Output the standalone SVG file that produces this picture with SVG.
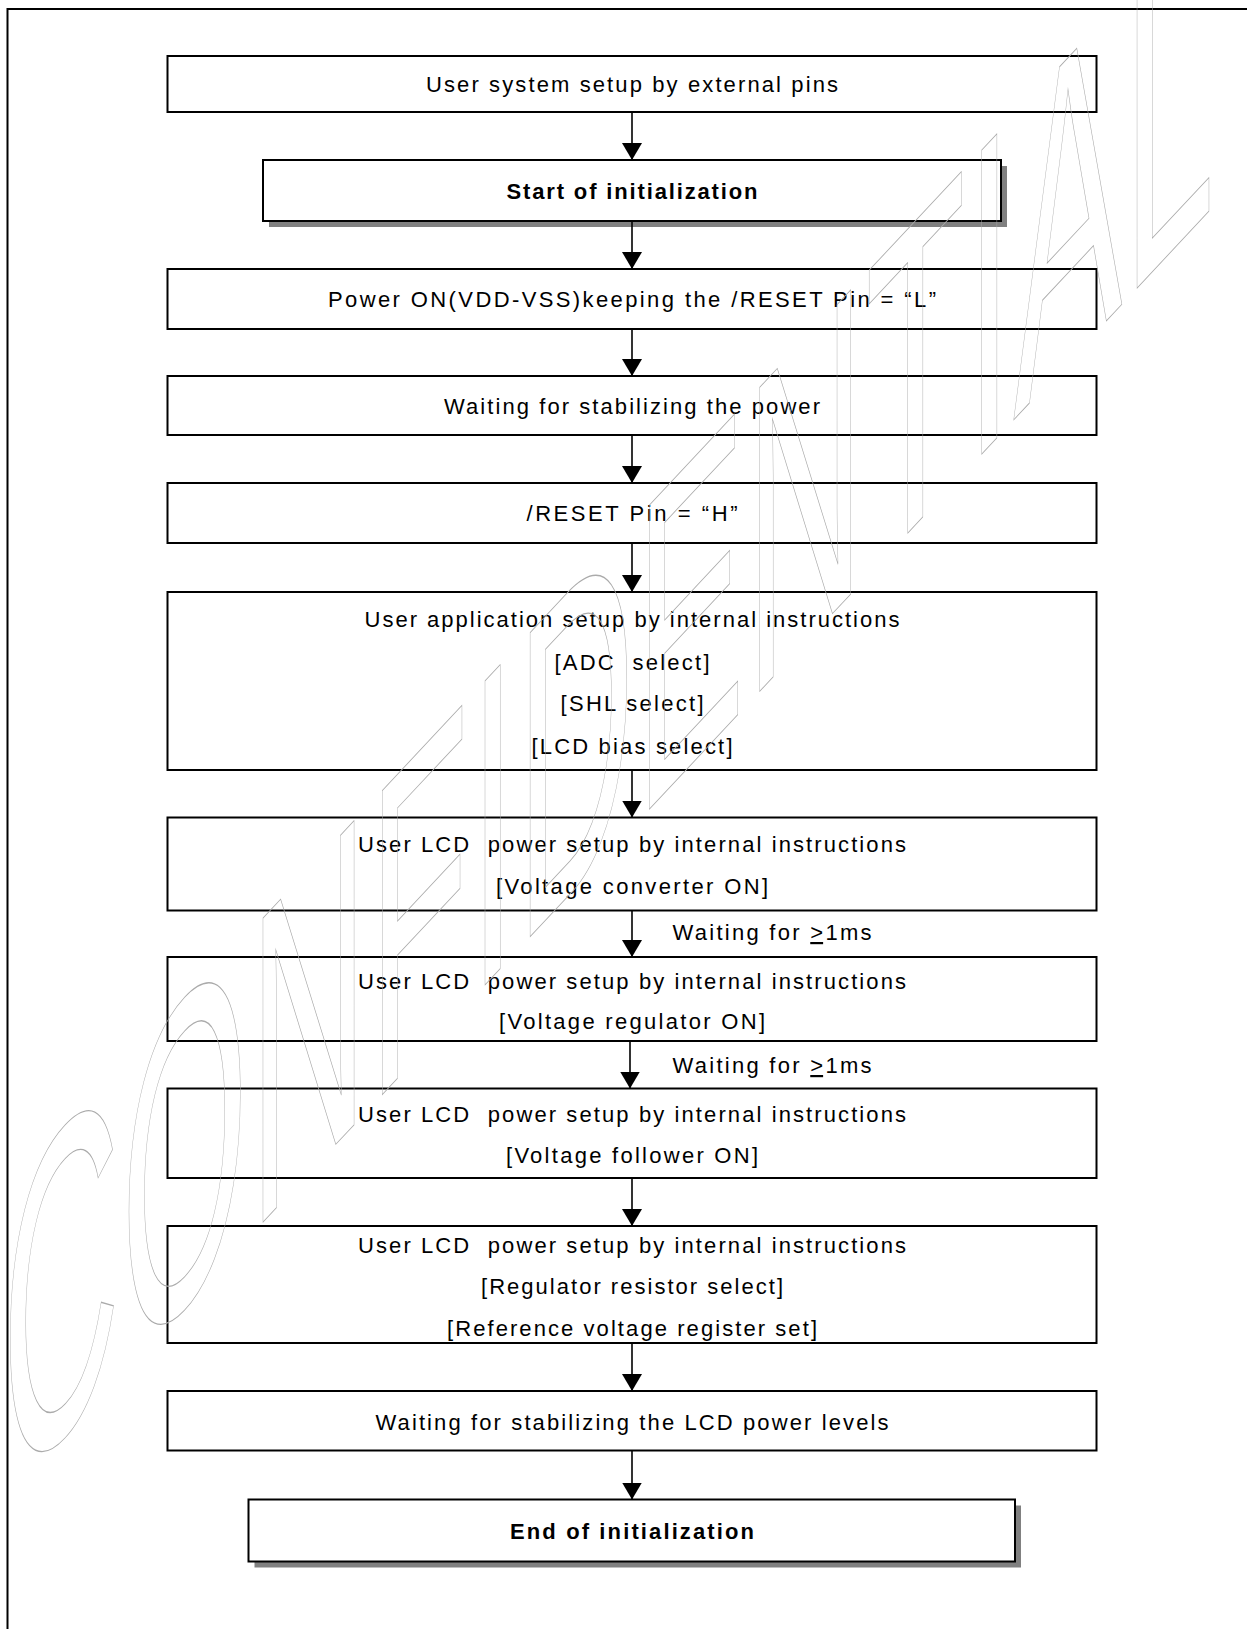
<svg xmlns="http://www.w3.org/2000/svg" width="1247" height="1629" viewBox="0 0 1247 1629">
<style>
.frame{fill:none;stroke:#000;stroke-width:2}
.box{fill:#fff;stroke:#000;stroke-width:2}
.shadow{fill:#808080}
.t{font-family:"Liberation Sans",Arial,sans-serif;font-size:22px;fill:#000;text-anchor:middle}
.l{font-family:"Liberation Sans",Arial,sans-serif;font-size:22px;fill:#000}
.b{font-weight:bold}
.conn line{stroke:#000;stroke-width:1.6;marker-end:url(#arr)}
.wm{font-family:"Liberation Sans",Arial,sans-serif;font-size:442px;letter-spacing:4px;fill:none;stroke:#ababab;stroke-width:1}
</style>
<defs>
<marker id="arr" viewBox="0 0 17 20" refX="17" refY="10" markerWidth="17" markerHeight="20" markerUnits="userSpaceOnUse" orient="auto">
<path d="M0,0 L17,10 L0,20 z" fill="#000"/>
</marker>
</defs>
<rect width="1247" height="1629" fill="#fff"/>
<path class="frame" d="M7.5,1640 V9 H1260"/>

<g id="n1"><rect class="box" x="167.5" y="56" width="929" height="56"/><text class="t" x="632" y="92" textLength="412" lengthAdjust="spacing">User system setup by external pins</text></g>
<g id="n2"><rect class="shadow" x="269" y="166" width="738" height="61"/><rect class="box" x="263" y="160" width="738" height="61"/><text class="t b" x="632" y="198.5" textLength="251" lengthAdjust="spacing">Start of initialization</text></g>
<g id="n3"><rect class="box" x="167.5" y="269" width="929" height="60"/><text class="t" x="632" y="307" textLength="608" lengthAdjust="spacing">Power ON(VDD-VSS)keeping the /RESET Pin = “L”</text></g>
<g id="n4"><rect class="box" x="167.5" y="376" width="929" height="59"/><text class="t" x="632" y="414" textLength="376" lengthAdjust="spacing">Waiting for stabilizing the power</text></g>
<g id="n5"><rect class="box" x="167.5" y="483" width="929" height="60"/><text class="t" x="632" y="521" textLength="211" lengthAdjust="spacing">/RESET Pin = “H”</text></g>
<g id="n6"><rect class="box" x="167.5" y="592" width="929" height="178"/>
<text class="t" x="632" y="627" textLength="535" lengthAdjust="spacing">User application setup by internal instructions</text>
<text class="t" x="632" y="669.5" textLength="155" lengthAdjust="spacing" xml:space="preserve">[ADC  select]</text>
<text class="t" x="632" y="711" textLength="143" lengthAdjust="spacing">[SHL select]</text>
<text class="t" x="632" y="753.5" textLength="201" lengthAdjust="spacing">[LCD bias select]</text></g>
<g id="n7"><rect class="box" x="167.5" y="817.5" width="929" height="93"/>
<text class="t" x="632" y="852" textLength="548" lengthAdjust="spacing" xml:space="preserve">User LCD  power setup by internal instructions</text>
<text class="t" x="632" y="894" textLength="272" lengthAdjust="spacing">[Voltage converter ON]</text></g>
<g id="n8"><rect class="box" x="167.5" y="957" width="929" height="84"/>
<text class="t" x="632" y="988.5" textLength="548" lengthAdjust="spacing" xml:space="preserve">User LCD  power setup by internal instructions</text>
<text class="t" x="632" y="1029" textLength="266" lengthAdjust="spacing">[Voltage regulator ON]</text></g>
<g id="n9"><rect class="box" x="167.5" y="1088.5" width="929" height="89.5"/>
<text class="t" x="632" y="1121.5" textLength="548" lengthAdjust="spacing" xml:space="preserve">User LCD  power setup by internal instructions</text>
<text class="t" x="632" y="1163" textLength="252" lengthAdjust="spacing">[Voltage follower ON]</text></g>
<g id="n10"><rect class="box" x="167.5" y="1226" width="929" height="117"/>
<text class="t" x="632" y="1252.5" textLength="548" lengthAdjust="spacing" xml:space="preserve">User LCD  power setup by internal instructions</text>
<text class="t" x="632" y="1294" textLength="302" lengthAdjust="spacing">[Regulator resistor select]</text>
<text class="t" x="632" y="1335.5" textLength="370" lengthAdjust="spacing">[Reference voltage register set]</text></g>
<g id="n11"><rect class="box" x="167.5" y="1391" width="929" height="59.5"/><text class="t" x="632" y="1429.5" textLength="513" lengthAdjust="spacing">Waiting for stabilizing the LCD power levels</text></g>
<g id="n12"><rect class="shadow" x="254.5" y="1505.5" width="766.5" height="62"/><rect class="box" x="248.5" y="1499.5" width="766.5" height="62"/><text class="t b" x="632" y="1539" textLength="244" lengthAdjust="spacing">End of initialization</text></g>

<g id="connectors" class="conn">
<line x1="632" y1="112" x2="632" y2="160"/>
<line x1="632" y1="221" x2="632" y2="269"/>
<line x1="632" y1="329" x2="632" y2="376"/>
<line x1="632" y1="435" x2="632" y2="483"/>
<line x1="632" y1="543" x2="632" y2="592"/>
<line x1="632" y1="770" x2="632" y2="817.5"/>
<line x1="632" y1="910.5" x2="632" y2="957"/>
<line x1="630" y1="1041" x2="630" y2="1088.5"/>
<line x1="632" y1="1178" x2="632" y2="1226"/>
<line x1="632" y1="1343" x2="632" y2="1391"/>
<line x1="632" y1="1450.5" x2="632" y2="1499.5"/>
</g>
<g id="labels">
<text class="l" x="672.5" y="940" textLength="199" lengthAdjust="spacing">Waiting for <tspan text-decoration="underline">&gt;</tspan>1ms</text>
<text class="l" x="672.5" y="1073" textLength="199" lengthAdjust="spacing">Waiting for <tspan text-decoration="underline">&gt;</tspan>1ms</text>
</g>
<g id="watermark">
<text class="wm" transform="translate(2,1501) skewY(-46.9) scale(0.369,1)" x="0" y="0" vector-effect="non-scaling-stroke">CONFIDENTIAL</text>
</g>
</svg>
